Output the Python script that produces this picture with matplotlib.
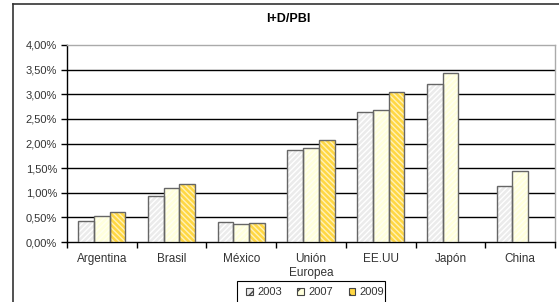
import matplotlib
matplotlib.use("Agg")
import matplotlib.pyplot as plt
import numpy as np
from matplotlib.patches import Rectangle
from matplotlib.lines import Line2D

plt.rcParams['font.family'] = ['Liberation Sans', 'DejaVu Sans']

categories = ["Argentina", "Brasil", "México", "Unión\nEuropea", "EE.UU", "Japón", "China"]
years = ["2003", "2007", "2009"]
v2003 = [0.42, 0.94, 0.41, 1.87, 2.63, 3.20, 1.14]
v2007 = [0.52, 1.10, 0.36, 1.91, 2.69, 3.44, 1.45]
v2009 = [0.615, 1.18, 0.38, 2.07, 3.04, None, None]
series = [v2003, v2007, v2009]

faces = ["#ebebeb", "#ffffdc", "#ffd743"]
hatchcol = ["#ffffff", "#fffff2", "#fff2b8"]
hatches = ["//////", "//////", "\\\\\\\\\\\\"]
edge = "#666666"

fig = plt.figure(figsize=(5.59, 3.02), dpi=100)
W, H = 559, 302
ax = fig.add_axes([67 / W, 1 - 242 / H, (555 - 67) / W, (242 - 45) / H])

x = np.arange(len(categories))
bw = 0.225
for i, vals in enumerate(series):
    xs = [xi + (i - 1) * bw for xi, v in zip(x, vals) if v is not None]
    hs = [v for v in vals if v is not None]
    ax.bar(xs, hs, width=bw, color=faces[i], edgecolor=hatchcol[i], hatch=hatches[i],
           linewidth=0, zorder=3)
    ax.bar(xs, hs, width=bw, facecolor="none", edgecolor=edge, linewidth=1.0, zorder=4)

ax.set_xlim(-0.5, len(categories) - 0.5)
ax.set_ylim(0, 4.0)
yt = np.arange(0, 4.01, 0.5)
ax.set_yticks(yt)
ax.set_yticklabels([("%.2f" % t).replace(".", ",") + "%" for t in yt], fontsize=8)
for t in yt[1:-1]:
    ax.axhline(t, color="black", linewidth=1.0, zorder=2)

ax.set_xticks(np.arange(len(categories) + 1) - 0.5)
ax.set_xticklabels([])
ax.set_xticks(x, minor=True)
ax.set_xticklabels(categories, minor=True, fontsize=8.5, color="#333333")
ax.tick_params(axis="x", which="major", direction="out", length=4, width=1, color="black")
ax.tick_params(axis="x", which="minor", length=0, pad=8)
ax.tick_params(axis="y", direction="out", length=4, width=1, color="black", pad=3, labelcolor="#333333")

ax.spines["left"].set_color("black")
ax.spines["bottom"].set_color("black")
ax.spines["top"].set_color("#aaaaaa")
ax.spines["right"].set_color("#aaaaaa")
for s in ax.spines.values():
    s.set_linewidth(1.0)

fig.text(288 / W, 1 - 19 / H, "I+D/PBI", fontsize=9, fontweight="bold", ha="center", va="center")

# outer chart frame
fig.add_artist(Line2D([13 / W, 13 / W], [0, 1 - 4 / H], transform=fig.transFigure, color="#333333", linewidth=1.2))
fig.add_artist(Line2D([13 / W, 1], [1 - 4 / H, 1 - 4 / H], transform=fig.transFigure, color="#333333", linewidth=1.2))

# legend
fig.add_artist(Rectangle((237 / W, -0.05), (385 - 237) / W, 0.05 + (302 - 281) / H,
                         transform=fig.transFigure, facecolor="white", edgecolor="black", linewidth=0.8))
handles = []
for i in range(3):
    handles.append(Rectangle((0, 0), 1, 1, facecolor=faces[i], edgecolor="#444444", hatch=hatches[i][:3], linewidth=0.8))
leg = fig.legend(handles, years, loc="center left", bbox_to_anchor=(246 / W, 1 - 292 / H),
                 ncol=3, fontsize=8, frameon=False,
                 handlelength=0.6, handleheight=0.6, handletextpad=0.4, columnspacing=1.4,
                 borderpad=0, borderaxespad=0)
for t in leg.get_texts():
    t.set_color("#333333")

fig.savefig("out.png", dpi=100)
